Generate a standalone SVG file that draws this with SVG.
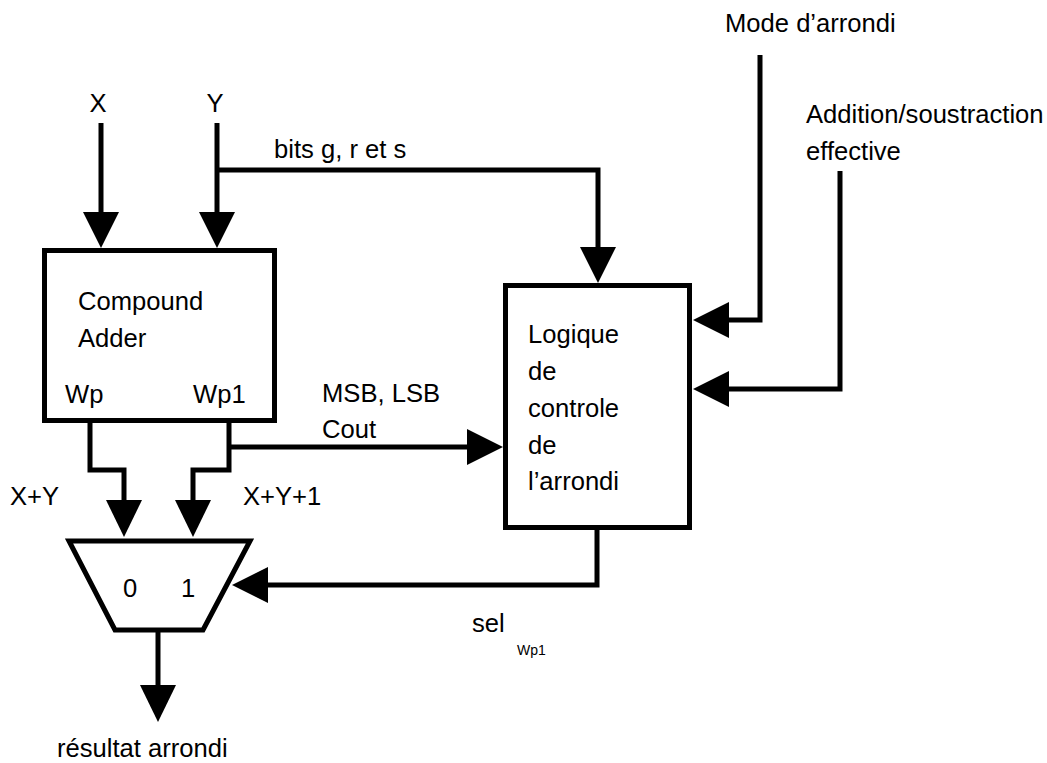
<svg xmlns="http://www.w3.org/2000/svg" width="1047" height="763" viewBox="0 0 1047 763">
<style>
text{font-family:"Liberation Sans",Arial,sans-serif;font-size:25.6px;fill:#000}
.w{fill:none;stroke:#000;stroke-width:5}
.box{fill:#fff;stroke:#000;stroke-width:5}
.ah{fill:#000;stroke:none}
.c{text-anchor:middle}
.small{font-size:14px}
</style>
<rect width="1047" height="763" fill="#fff"/>
<g id="connectors">
<path class="w" d="M101,123 V213"/>
<polygon class="ah" points="83,212 119,212 101,248"/>
<path class="w" d="M217,123 V213"/>
<polygon class="ah" points="199,212 235,212 217,248"/>
<path class="w" d="M217,170 H598 V248"/>
<polygon class="ah" points="580,247 616,247 598,283"/>
<path class="w" d="M90,423 V470 H124 V501"/>
<polygon class="ah" points="106,500 142,500 124,537"/>
<path class="w" d="M229,423 V470 H193 V501"/>
<polygon class="ah" points="175,500 211,500 193,537"/>
<path class="w" d="M229,447 H468"/>
<polygon class="ah" points="467,429 467,465 503,447"/>
<path class="w" d="M760,55 V320 H728"/>
<polygon class="ah" points="729,302 729,338 693,320"/>
<path class="w" d="M840,171 V389 H728"/>
<polygon class="ah" points="729,371 729,407 693,389"/>
<path class="w" d="M597,530 V585 H267"/>
<polygon class="ah" points="268,567 268,603 232,585"/>
<path class="w" d="M158,632 V686"/>
<polygon class="ah" points="140,685 176,685 158,722"/>
</g>
<g id="inputs">
<text class="c" x="98" y="112">X</text>
<text class="c" x="215" y="112">Y</text>
<text x="725" y="32">Mode d’arrondi</text>
<text x="806" y="123">Addition/soustraction</text>
<text x="806" y="160">effective</text>
</g>
<g id="compound-adder">
<rect class="box" x="44.5" y="250.5" width="230" height="170"/>
<text x="78" y="310">Compound</text>
<text x="78" y="347">Adder</text>
<text x="65" y="403">Wp</text>
<text x="193" y="403">Wp1</text>
</g>
<g id="logic">
<rect class="box" x="505.5" y="285.5" width="184" height="242"/>
<text x="528" y="343">Logique</text>
<text x="528" y="380">de</text>
<text x="528" y="417">controle</text>
<text x="528" y="454">de</text>
<text x="528" y="490">l’arrondi</text>
</g>
<g id="mux">
<polygon class="box" points="69,541 250,541 203,630 115,630"/>
<text class="c" x="130" y="597">0</text>
<text class="c" x="188" y="597">1</text>
</g>
<g id="labels">
<text x="274" y="158">bits g, r et s</text>
<text x="322" y="402">MSB, LSB</text>
<text x="322" y="438">Cout</text>
<text x="10" y="505">X+Y</text>
<text x="243" y="505">X+Y+1</text>
<text x="472" y="632">sel</text>
<text class="small" x="517" y="655">Wp1</text>
<text x="57" y="757">résultat arrondi</text>
</g>
</svg>
